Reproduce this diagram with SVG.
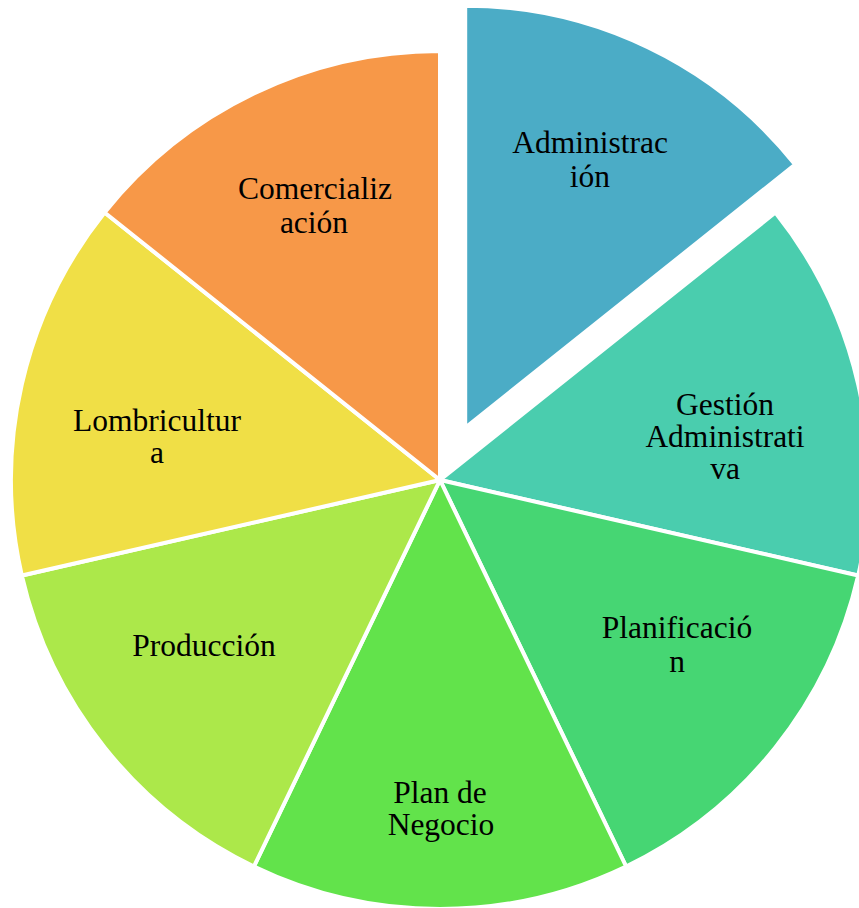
<svg xmlns="http://www.w3.org/2000/svg" width="859" height="908" viewBox="0 0 859 908">
  <style>
    .slice { stroke: #ffffff; stroke-width: 4; stroke-linejoin: miter; }
    .label { font-family: "Liberation Serif", "Times New Roman", serif; font-size: 31.5px; fill: #000000; text-anchor: middle; }
  </style>
  <rect width="859" height="908" fill="#ffffff"/>

  <!-- seven equal sectors, centre (440,480), r 429; first sector pulled out -->
  <g id="administracion">
    <path class="slice" fill="#4BACC6" d="M465.2,427.7 L465.2,5.7 A422,422 0 0 1 795.1,164.6 Z"/>
    <text class="label" x="590" y="153">Administrac</text>
    <text class="label" x="590" y="187">ión</text>
  </g>
  <g id="gestion">
    <path class="slice" fill="#4ACDAE" d="M440,480 L775.4,212.5 A429,429 0 0 1 858.2,575.5 Z"/>
    <text class="label" x="725" y="415">Gestión</text>
    <text class="label" x="725" y="447">Administrati</text>
    <text class="label" x="725" y="479">va</text>
  </g>
  <g id="planificacion">
    <path class="slice" fill="#46D673" d="M440,480 L858.2,575.5 A429,429 0 0 1 626.1,866.5 Z"/>
    <text class="label" x="677" y="638">Planificació</text>
    <text class="label" x="677" y="672">n</text>
  </g>
  <g id="plan-de-negocio">
    <path class="slice" fill="#62E34B" d="M440,480 L626.1,866.5 A429,429 0 0 1 253.9,866.5 Z"/>
    <text class="label" x="440" y="803">Plan de</text>
    <text class="label" x="441" y="835">Negocio</text>
  </g>
  <g id="produccion">
    <path class="slice" fill="#ACE84A" d="M440,480 L253.9,866.5 A429,429 0 0 1 21.8,575.5 Z"/>
    <text class="label" x="204" y="656">Producción</text>
  </g>
  <g id="lombricultura">
    <path class="slice" fill="#F0DF46" d="M440,480 L21.8,575.5 A429,429 0 0 1 104.6,212.5 Z"/>
    <text class="label" x="157" y="431">Lombricultur</text>
    <text class="label" x="157" y="463">a</text>
  </g>
  <g id="comercializacion">
    <path class="slice" fill="#F79848" d="M440,480 L104.6,212.5 A429,429 0 0 1 440,51 Z"/>
    <text class="label" x="315" y="199">Comercializ</text>
    <text class="label" x="314" y="233">ación</text>
  </g>
  <g id="connectors"></g>
</svg>
